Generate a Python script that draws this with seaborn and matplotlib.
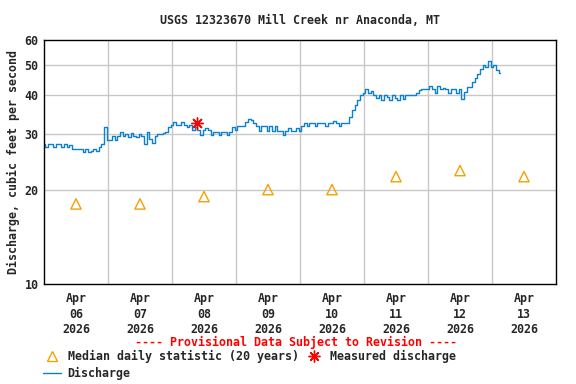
import matplotlib
matplotlib.use("Agg")
import matplotlib.pyplot as plt
from matplotlib.lines import Line2D
from matplotlib.ticker import FixedLocator, FixedFormatter, NullLocator
import seaborn as sns
import pandas as pd

# ---- data (hours since Apr 06 2026 00:00) ----
day_labels = ["Apr\n06\n2026", "Apr\n07\n2026", "Apr\n08\n2026", "Apr\n09\n2026",
              "Apr\n10\n2026", "Apr\n11\n2026", "Apr\n12\n2026", "Apr\n13\n2026"]

discharge_apr06 = [28.0, 27.3, 28.0, 28.0, 27.3, 28.0, 28.0, 27.3, 28.0, 27.3, 27.8, 27.0,
                   27.0, 27.0, 27.0, 26.4, 27.0, 26.3, 26.5, 27.0, 26.5, 27.4, 28.0, 31.6]
discharge_apr07 = [28.8, 28.8, 29.6, 28.8, 29.6, 30.6, 29.6, 30.0, 29.5, 30.2, 29.6, 29.4,
                   30.0, 29.6, 28.0, 30.5, 29.0, 28.2, 29.6, 30.0, 30.0, 30.3, 30.6, 31.7]
discharge_apr08 = [32.1, 32.8, 32.1, 32.1, 32.8, 32.1, 31.7, 32.2, 31.0, 31.7, 31.0, 29.9,
                   31.0, 31.4, 31.0, 29.9, 30.6, 30.6, 29.9, 30.6, 30.6, 29.9, 30.6, 31.7]
discharge_apr09 = [31.0, 31.9, 31.9, 31.9, 32.9, 33.5, 33.3, 32.5, 31.9, 30.8, 31.9, 31.9,
                   30.8, 31.9, 30.8, 31.9, 30.8, 30.8, 29.9, 30.8, 31.5, 30.8, 30.8, 31.5]
discharge_apr10 = [30.8, 31.9, 32.6, 31.9, 32.6, 32.6, 31.9, 32.6, 32.6, 32.6, 31.9, 32.6,
                   32.6, 33.0, 32.6, 31.9, 32.6, 32.6, 32.6, 34.2, 35.9, 37.3, 38.6, 40.1]
discharge_apr11 = [40.8, 41.8, 40.8, 41.2, 40.1, 39.3, 40.1, 38.6, 40.1, 39.5, 38.6, 40.1,
                   39.3, 38.6, 40.1, 38.8, 40.1, 40.1, 40.1, 40.1, 40.8, 41.6, 41.8, 41.8]
discharge_apr12 = [41.8, 42.8, 41.8, 40.8, 42.8, 41.8, 42.3, 41.8, 40.8, 41.8, 41.8, 40.8,
                   41.8, 38.9, 41.0, 42.5, 42.5, 44.0, 45.5, 46.9, 48.5, 49.9, 49.2, 51.5]
discharge_apr13 = [49.3, 49.9, 48.1, 47.1]

discharge = (discharge_apr06 + discharge_apr07 + discharge_apr08 + discharge_apr09 +
             discharge_apr10 + discharge_apr11 + discharge_apr12 + discharge_apr13)
discharge_hours = list(range(len(discharge)))

median_hours = [12, 36, 60, 84, 108, 132, 156, 180]
median_values = [18, 18, 19, 20, 20, 22, 23, 22]

measured_hours = [57.4]
measured_values = [32.6]

# ---- style ----
sns.set_style("white")
FONT = ["DejaVu Sans Mono"]
plt.rcParams["font.family"] = FONT
plt.rcParams["font.weight"] = "bold"
FS = 8.4

BLUE = "#0A80CF"
ORANGE = "#F5A000"
RED = "#FF0000"
GRID = "#C8C8C8"

fig = plt.figure(figsize=(5.76, 3.84), dpi=100)
ax = fig.add_axes([44 / 576, 1 - 284 / 384, 512 / 576, 244 / 384])

df = pd.DataFrame({"hour": discharge_hours, "cfs": discharge})
sns.lineplot(data=df, x="hour", y="cfs", color=BLUE, linewidth=1.0, ax=ax,
             estimator=None, drawstyle="steps-mid")
sns.scatterplot(x=median_hours, y=median_values, marker="^", s=55,
                facecolor="none", edgecolor=ORANGE, linewidth=1.0, ax=ax, zorder=4)
sns.scatterplot(x=measured_hours, y=measured_values, marker=(8, 2, 0), s=70,
                color=RED, edgecolor=RED, linewidth=1.0, ax=ax, zorder=5)

ax.set_yscale("log")
ax.set_ylim(10, 60)
ax.set_xlim(0, 192)

yt = [10, 20, 30, 40, 50, 60]
ax.yaxis.set_major_locator(FixedLocator(yt))
ax.yaxis.set_major_formatter(FixedFormatter([str(v) for v in yt]))
ax.yaxis.set_minor_locator(NullLocator())

ax.set_xticks(median_hours)
ax.set_xticklabels(day_labels, linespacing=1.25)
ax.xaxis.set_minor_locator(FixedLocator([24, 48, 72, 96, 120, 144, 168]))

ax.grid(False)
ax.grid(True, which="minor", axis="x", color=GRID, linewidth=1.0)
for v in [20, 30, 40, 50]:
    ax.axhline(v, color=GRID, linewidth=1.0, zorder=0)

ax.tick_params(axis="x", which="both", length=0, labelsize=FS, pad=6)
ax.tick_params(axis="y", which="both", length=0, labelsize=FS, pad=4)
for lab in ax.get_xticklabels() + ax.get_yticklabels():
    lab.set_fontweight("bold")
for s in ax.spines.values():
    s.set_color("black")
    s.set_linewidth(1.0)

ax.set_xlabel("")
ax.set_ylabel("Discharge, cubic feet per second", fontsize=FS, fontweight="bold", labelpad=3)

fig.text(300 / 576, 1 - 20 / 384, "USGS 12323670 Mill Creek nr Anaconda, MT",
         ha="center", va="center", fontsize=FS, fontweight="bold")
fig.text(296 / 576, 1 - 342 / 384, "---- Provisional Data Subject to Revision ----",
         ha="center", va="center", fontsize=FS, fontweight="bold", color=RED)

handles = [
    Line2D([], [], marker="^", linestyle="none", markerfacecolor="none",
           markeredgecolor=ORANGE, markersize=7.5, markeredgewidth=1.0),
    Line2D([], [], color=BLUE, linewidth=1.0),
    Line2D([], [], marker=(8, 2, 0), linestyle="none", color=RED,
           markersize=8.5, markeredgewidth=1.0),
]
labels = ["Median daily statistic (20 years)", "Discharge", "Measured discharge"]
fig.legend(handles, labels, loc="upper left", bbox_to_anchor=(43 / 576, 1 - 350 / 384),
           ncol=2, frameon=False, fontsize=FS, handlelength=1.5, handletextpad=0.6,
           columnspacing=0.6, labelspacing=0.3, borderaxespad=0, borderpad=0,
           prop={"family": FONT, "weight": "bold", "size": FS})

fig.savefig("out.png", dpi=100)
